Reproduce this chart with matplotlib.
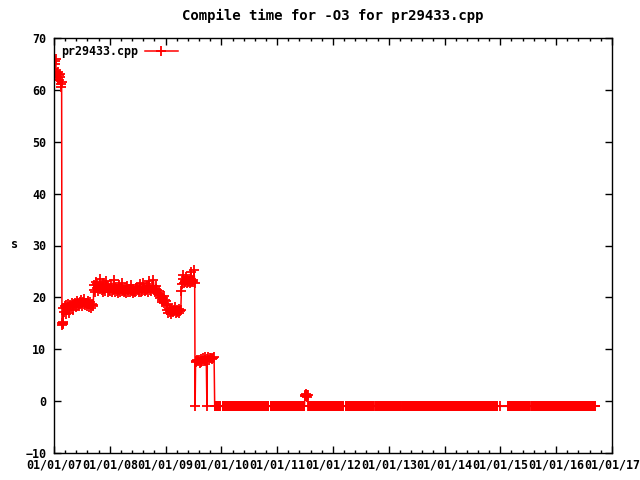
import numpy as np
import pandas as pd
import matplotlib
matplotlib.use('Agg')
import matplotlib.pyplot as plt
import matplotlib.dates as mdates

plt.rcParams['font.family'] = ['DejaVu Sans Mono']
plt.rcParams['font.weight'] = 'bold'
plt.rcParams['axes.titleweight'] = 'bold'
plt.rcParams['axes.labelweight'] = 'bold'
plt.rcParams['font.size'] = 8.4

# compile times (s), one list per stretch of nightly runs
early_span = ('2007-01-06', '2007-02-20')
early_vals = [65.5, 65.0, 66.0, 63.0, 62.5, 63.2, 62.0, 63.5, 62.8, 62.0, 63.0, 62.5, 61.2, 60.6, 61.5]

drop_span = ('2007-02-22', '2007-03-02')
drop_vals = [15.0, 14.6, 15.3, 14.8, 15.0]

rise_span = ('2007-03-04', '2007-09-15')
rise_vals = [18.0, 17.2, 18.3, 16.8, 18.5, 17.5, 18.2, 18.8, 17.0, 18.4, 18.6, 18.1, 18.9, 18.3, 17.6,
             18.7, 18.5, 19.0, 18.2, 18.8, 19.3, 18.6, 18.9, 18.4, 19.1, 18.7, 19.5, 18.9, 18.3, 19.2,
             18.8, 19.6, 18.5, 18.9, 19.0, 18.4, 19.3, 18.2, 18.7, 19.1, 18.5, 18.0, 18.8, 18.3, 18.6]

plateau_span = ('2007-09-18', '2008-11-20')
plateau_vals = [21.5, 22.3, 21.0, 23.0, 21.8, 22.5, 21.2, 22.0, 23.6, 21.6, 22.2, 21.4, 22.8, 21.1, 21.7,
                22.4, 21.3, 23.2, 21.9, 21.0, 22.1, 21.5, 21.2, 22.6, 21.8, 21.0, 21.4, 23.3, 21.6, 21.1,
                22.0, 21.3, 21.7, 20.9, 22.3, 21.5, 21.0, 21.8, 22.7, 21.2, 21.4, 21.0, 21.9, 21.3, 20.8,
                22.1, 21.5, 21.1, 21.6, 21.0, 21.4, 22.4, 21.2, 20.9, 21.7, 21.3, 21.0, 21.8, 21.2, 22.0,
                21.5, 21.1, 21.4, 22.6, 21.0, 21.7, 21.3, 22.8, 21.5, 21.2, 21.9, 21.4, 22.2, 21.6, 21.1,
                23.1, 21.5, 21.8, 21.3, 22.0, 21.6, 23.4, 21.4, 21.0, 21.7, 22.1, 21.5, 20.8, 21.3, 20.5]

dip_span = ('2008-11-23', '2009-01-10')
dip_vals = [20.5, 19.8, 20.0, 19.5, 19.2, 19.8, 20.2, 19.0, 19.5, 18.8, 19.3, 18.6]

low_span = ('2009-01-13', '2009-04-10')
low_vals = [17.5, 17.0, 17.8, 17.2, 17.6, 16.8, 17.4, 17.9, 17.1, 17.5,
            17.3, 18.2, 17.0, 17.6, 17.2, 17.4, 16.9, 17.7, 17.3, 17.5]

peak_span = ('2009-04-14', '2009-07-10')
peak_vals = [21.3, 22.5, 23.5, 24.3, 22.8, 23.2, 23.0, 24.0, 22.7, 23.3, 22.9,
             23.6, 23.1, 22.8, 24.8, 23.0, 23.2, 22.9, 23.4, 25.2, 22.8]

fail1_span = ('2009-07-13', '2009-07-13')
fail1_vals = [-1.0]

mid_span = ('2009-07-16', '2009-09-24')
mid_vals = [7.8, 7.5, 8.0, 7.7, 7.9, 7.4, 8.1, 7.6, 7.8, 8.3, 7.7, 7.9, 8.5, 7.8]

fail2_span = ('2009-09-28', '2009-09-28')
fail2_vals = [-1.0]

mid2_span = ('2009-10-01', '2009-11-14')
mid2_vals = [8.2, 8.5, 8.0, 8.3, 8.4, 8.1, 8.3, 8.6]

bump_span = ('2011-07-02', '2011-07-20')
bump_vals = [0.9, 1.2, 1.0, 1.4, 1.1, 0.8, 1.2]

# stretches where every nightly result is -1 (no timing)
fail_value = -1.0
fail_runs = [('2009-11-18', '2009-12-22'), ('2010-01-10', '2010-11-05'), ('2010-11-20', '2011-06-28'),
             ('2011-07-25', '2012-03-10'), ('2012-03-25', '2012-09-20'), ('2012-10-05', '2013-03-20'),
             ('2013-04-02', '2014-12-08'), ('2014-12-28', '2014-12-28'), ('2015-02-22', '2015-07-10'),
             ('2015-07-19', '2015-07-19'), ('2015-07-28', '2016-03-25'), ('2016-04-01', '2016-04-01'),
             ('2016-04-06', '2016-09-12')]


def piece(span, vals):
	a = mdates.date2num(pd.Timestamp(span[0]))
	b = mdates.date2num(pd.Timestamp(span[1]))
	return list(np.linspace(a, b, len(vals))), list(vals)


pieces = [(early_span, early_vals), (drop_span, drop_vals), (rise_span, rise_vals),
          (plateau_span, plateau_vals), (dip_span, dip_vals), (low_span, low_vals),
          (peak_span, peak_vals), (fail1_span, fail1_vals), (mid_span, mid_vals),
          (fail2_span, fail2_vals), (mid2_span, mid2_vals)]
for run in fail_runs:
	days = pd.date_range(run[0], run[1], freq='D')
	pieces.append((run, [fail_value] * len(days)))
pieces.append((bump_span, bump_vals))
pieces.sort(key=lambda p: pd.Timestamp(p[0][0]))

xs = []
ys = []
for span, vals in pieces:
	px, py = piece(span, vals)
	xs += px
	ys += py

fig = plt.figure(figsize=(6.4, 4.8), dpi=100)
ax = fig.add_axes([54/640, 27/480, 558/640, 415/480])
ax.plot(xs, ys, color='#ff0000', lw=1.1, marker='+', ms=7.5, mew=1.3, label='pr29433.cpp')

ax.set_xlim(mdates.date2num(pd.Timestamp('2007-01-01')), mdates.date2num(pd.Timestamp('2017-01-01')))
ax.set_ylim(-10, 70)
ax.set_yticks(range(-10, 71, 10))

years = [mdates.date2num(pd.Timestamp('%d-01-01' % y)) for y in range(2007, 2018)]
minors = []
for i in range(len(years) - 1):
	step = (years[i+1] - years[i]) / 5
	minors += [years[i] + k*step for k in range(1, 5)]
ax.set_xticks(years)
ax.set_xticks(minors, minor=True)
ax.xaxis.set_major_formatter(mdates.DateFormatter('%m/%d/%y'))

ax.tick_params(which='both', direction='in', top=True, right=True, width=1, colors='black')
ax.tick_params(which='major', length=5)
ax.tick_params(which='minor', length=2.5)
ax.tick_params(axis='y', pad=5.5)
ax.tick_params(axis='x', pad=4)
for s in ax.spines.values():
	s.set_linewidth(1)

ax.set_title('Compile time for -O3 for pr29433.cpp', pad=13, fontweight='bold')
fig.text(14/640, 1 - 245/480, 's', ha='center', va='center', fontweight='bold')

ax.legend(loc='upper left', frameon=False, markerfirst=False, handlelength=2.8,
          borderaxespad=0.2, handletextpad=0.6, bbox_to_anchor=(0.0, 1.0))

fig.savefig('out.png', dpi=100)
